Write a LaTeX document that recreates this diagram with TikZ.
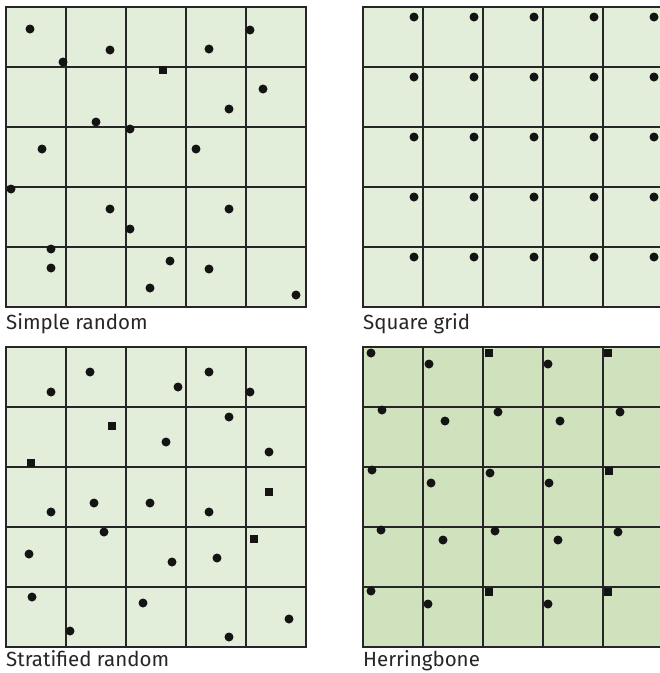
\documentclass[tikz,border=0pt]{standalone}
\usepackage{fontspec}
\setmainfont{Fira Sans}
\definecolor{lightfill}{RGB}{227,238,218}
\definecolor{darkfill}{RGB}{207,226,189}
\definecolor{gridcol}{RGB}{38,38,38}
\definecolor{dotcol}{RGB}{20,20,20}
\tikzset{
  gridline/.style={draw=gridcol, line width=2pt},
  frame/.style={draw=gridcol, line width=2.6pt},
  dot/.style={circle, fill=dotcol, inner sep=0pt, minimum size=9pt},
  sdot/.style={rectangle, fill=dotcol, inner sep=0pt, minimum size=8pt},
  lbl/.style={anchor=base west, inner sep=0pt, font=\fontsize{20.5}{24}\selectfont, text=gridcol}
}
\newcommand{\panel}[3]{% x0, y0, fill
  \fill[#3] (#1,#2) rectangle ++(300,300);
  \foreach \k in {1,2,3,4} {
    \draw[gridline] ({#1+60*\k},#2) -- ++(0,300);
    \draw[gridline] (#1,{#2+60*\k}) -- ++(300,0);
  }
  \draw[frame] (#1,#2) rectangle ++(300,300);
}
\begin{document}
\begin{tikzpicture}[x=1pt,y=-1pt]
\useasboundingbox (0,0) rectangle (660,673);
\fill[white] (0,0) rectangle (660,673);
\begin{scope}
\clip (0,0) rectangle (660,673);
\panel{6}{7}{lightfill}
\panel{363}{7}{lightfill}
\panel{6}{347}{lightfill}
\panel{363}{347}{darkfill}
\end{scope}

% Simple random
\foreach \x/\y [count=\i] in {30/29,110/50,63/62,209/49,250/30,263/89,229/109,96/122,130/129,42/149,196/149,11/189,110/209,229/209,130/229,51/249,51/268,170/261,209/269,150/288,296/295}
  \node[dot] (sr\i) at (\x,\y) {};
\node[sdot] (srs1) at (163,70) {};

% Square grid
\foreach \c in {0,...,4} {
  \foreach \r in {0,...,4} {
    \node[dot] (sq\c\r) at ({363+51+60*\c},{7+10+60*\r}) {};
  }
}

% Stratified random
\foreach \x/\y [count=\i] in {51/392,90/372,178/387,209/372,250/392,229/417,166/442,269/452,51/512,94/503,150/503,209/512,104/532,29/554,172/562,217/558,32/597,143/603,70/631,289/619,229/637}
  \node[dot] (st\i) at (\x,\y) {};
\foreach \x/\y [count=\i] in {112/426,31/463,269/492,254/539}
  \node[sdot] (sts\i) at (\x,\y) {};

% Herringbone
\foreach \x/\y [count=\i] in {371/353,429/364,548/364,382/410,445/421,498/412,560/421,620/412,372/470,431/483,490/473,549/483,381/530,443/540,495/531,558/540,618/532,371/591,428/604,548/604}
  \node[dot] (hb\i) at (\x,\y) {};
\foreach \x/\y [count=\i] in {489/353,608/353,609/471,489/592,608/592}
  \node[sdot] (hbs\i) at (\x,\y) {};

% Labels
\node[lbl] (l1) at (6,329) {Simple random};
\node[lbl] (l2) at (363,329) {Square grid};
\node[lbl] (l3) at (6,666) {Stratified random};
\node[lbl] (l4) at (363,666) {Herringbone};
\end{tikzpicture}
\end{document}
